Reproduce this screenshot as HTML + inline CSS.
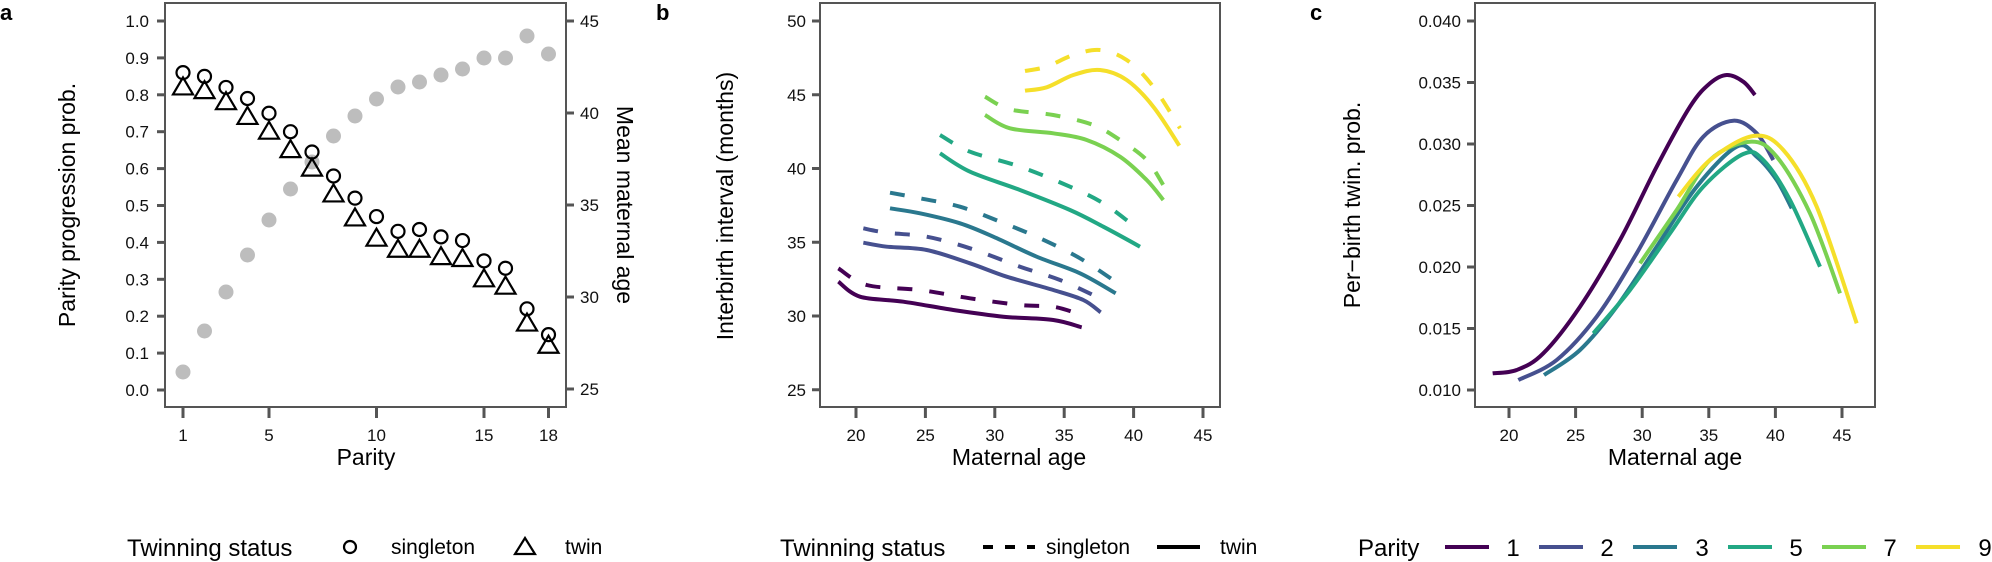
<!DOCTYPE html>
<html><head><meta charset="utf-8">
<style>
html,body{margin:0;padding:0;background:#fff;}
svg{display:block;font-family:"Liberation Sans",Arial,sans-serif;}
.t{font-size:17px;fill:#111;}
.ti{font-size:23px;fill:#000;}
.lg{font-size:24px;fill:#000;}
.ls{font-size:21px;fill:#000;}
.ax{fill:none;stroke:#555;stroke-width:2;}
.tk{stroke:#555;stroke-width:3;}
</style></head>
<body>
<svg id="s" width="1992" height="562" viewBox="0 0 1992 562" xmlns="http://www.w3.org/2000/svg">
<text x="0" y="20" style="font-size:22px;font-weight:bold">a</text>
<rect class="ax" x="165" y="3" width="401" height="404"/>
<g id="atk"></g>
<g id="adata"></g>
<text class="ti" transform="translate(75,205) rotate(-90)" text-anchor="middle">Parity progression prob.</text>
<text class="ti" transform="translate(617,205) rotate(90)" text-anchor="middle">Mean maternal age</text>
<text class="ti" x="366" y="465" text-anchor="middle">Parity</text>
<text class="lg" x="127" y="556">Twinning status</text>
<circle cx="350" cy="547" r="6" fill="none" stroke="#000" stroke-width="2.2"/>
<text class="ls" x="391" y="554">singleton</text>
<polygon points="525,538 535,554 515,554" fill="none" stroke="#000" stroke-width="2.2"/>
<text class="ls" x="565" y="554">twin</text>

<text x="656" y="20" style="font-size:22px;font-weight:bold">b</text>
<rect class="ax" x="820" y="3" width="400" height="404"/>
<g id="btk"></g>
<g id="bdata"></g>
<text class="ti" transform="translate(733,206) rotate(-90)" text-anchor="middle">Interbirth interval (months)</text>
<text class="ti" x="1019" y="465" text-anchor="middle">Maternal age</text>
<text class="lg" x="780" y="556">Twinning status</text>
<line x1="983" y1="547" x2="1035" y2="547" stroke="#000" stroke-width="4" stroke-dasharray="10,12"/>
<text class="ls" x="1046" y="554">singleton</text>
<line x1="1157" y1="547" x2="1200" y2="547" stroke="#000" stroke-width="4"/>
<text class="ls" x="1220" y="554">twin</text>

<text x="1310" y="20" style="font-size:22px;font-weight:bold">c</text>
<rect class="ax" x="1475" y="3" width="400" height="404"/>
<g id="ctk"></g>
<g id="cdata"></g>
<text class="ti" transform="translate(1360,205) rotate(-90)" text-anchor="middle">Per−birth twin. prob.</text>
<text class="ti" x="1675" y="465" text-anchor="middle">Maternal age</text>
<text class="lg" x="1358" y="556">Parity</text>
<g id="cleg"></g>
</svg>
<script>
const NS="http://www.w3.org/2000/svg";
function el(p,tag,attrs,txt){const e=document.createElementNS(NS,tag);for(const k in attrs)e.setAttribute(k,attrs[k]);if(txt!==undefined)e.textContent=txt;document.getElementById(p).appendChild(e);return e;}
function path(pts){let d="M"+pts[0][0]+","+pts[0][1];for(let i=0;i<pts.length-1;i++){const p0=pts[i-1]||pts[i],p1=pts[i],p2=pts[i+1],p3=pts[i+2]||p2;const c1=[p1[0]+(p2[0]-p0[0])/6,p1[1]+(p2[1]-p0[1])/6],c2=[p2[0]-(p3[0]-p1[0])/6,p2[1]-(p3[1]-p1[1])/6];d+=` C${c1[0].toFixed(1)},${c1[1].toFixed(1)} ${c2[0].toFixed(1)},${c2[1].toFixed(1)} ${p2[0].toFixed(1)},${p2[1].toFixed(1)}`;}return d;}
for(let i=0;i<=10;i++){const y=390-36.9*i;el("atk","line",{class:"tk",x1:157,y1:y,x2:165,y2:y});el("atk","text",{class:"t",x:149,y:y+6,"text-anchor":"end"},(i/10).toFixed(1));}
[25,30,35,40,45].forEach(v=>{const y=389-(v-25)*18.4;el("atk","line",{class:"tk",x1:566,y1:y,x2:574,y2:y});el("atk","text",{class:"t",x:580,y:y+6},v);});
[1,5,10,15,18].forEach(v=>{const x=183+(v-1)*21.5;el("atk","line",{class:"tk",x1:x,y1:407,x2:x,y2:418});el("atk","text",{class:"t",x:x,y:441,"text-anchor":"middle"},v);});
const grey=[372,331,292,255,220,189,162,136,116,99,87,82,75,69,58,58,36,54];
const circ=[0.86,0.85,0.82,0.79,0.75,0.70,0.645,0.58,0.52,0.47,0.43,0.435,0.415,0.405,0.35,0.33,0.22,0.15];
const tri=[0.82,0.81,0.78,0.74,0.70,0.65,0.60,0.53,0.465,0.41,0.38,0.38,0.36,0.355,0.30,0.28,0.18,0.12];
grey.forEach((y,i)=>el("adata","circle",{cx:183+i*21.5,cy:y,r:7.5,fill:"#bdbdbd"}));
circ.forEach((v,i)=>el("adata","circle",{cx:183+i*21.5,cy:390-369*v,r:6.5,fill:"none",stroke:"#000","stroke-width":2.2}));
tri.forEach((v,i)=>{const x=183+i*21.5,y=390-369*v;el("adata","polygon",{points:`${x},${y-10} ${x+10},${y+7} ${x-10},${y+7}`,fill:"none",stroke:"#000","stroke-width":2.2});});
[25,30,35,40,45,50].forEach(v=>{const y=21+(50-v)*14.75;el("btk","line",{class:"tk",x1:812,y1:y,x2:820,y2:y});el("btk","text",{class:"t",x:806,y:y+6,"text-anchor":"end"},v);});
[20,25,30,35,40,45].forEach(v=>{const x=856+(v-20)*13.88;el("btk","line",{class:"tk",x1:x,y1:407,x2:x,y2:418});el("btk","text",{class:"t",x:x,y:441,"text-anchor":"middle"},v);});
const col={1:"#440154",2:"#46508f",3:"#2a788e",5:"#22a884",7:"#7ad151",9:"#f5df2a"};
const bd=[
[1,0,[[55,845],[120,890],[250,905],[400,930],[550,950],[700,960],[785,982]]],
[1,1,[[55,805],[140,855],[300,870],[450,895],[600,915],[700,920],[770,940]]],
[2,0,[[130,728],[200,740],[320,750],[450,790],[560,830],[700,870],[790,900],[842,937]]],
[2,1,[[130,685],[200,698],[320,710],[450,745],[600,800],[720,840],[830,890]]],
[3,0,[[210,625],[300,640],[420,670],[520,710],[650,770],[780,820],[887,880]]],
[3,1,[[210,578],[300,595],[420,620],[540,665],[660,715],[780,775],[887,845]]],
[5,0,[[360,460],[450,515],[600,570],[750,630],[850,680],[960,740]]],
[5,1,[[360,405],[450,455],[600,500],[750,560],[850,610],[935,672]]],
[7,0,[[495,345],[570,385],[700,400],[800,420],[900,470],[980,540],[1030,600]]],
[7,1,[[495,290],[570,328],[700,345],[820,375],[900,420],[980,480],[1030,555]]],
[9,0,[[615,272],[680,262],[760,225],[840,210],[920,240],[1000,320],[1078,437]]],
[9,1,[[615,213],[680,200],[760,165],[840,150],[920,180],[1000,260],[1080,385]]]];
bd.forEach(([p,d,pts])=>{const q=pts.map(a=>[820+a[0]/3,a[1]/3]);const a={d:path(q),fill:"none",stroke:col[p],"stroke-width":4};if(d)a["stroke-dasharray"]="15,17";el("bdata","path",a);});
[0.010,0.015,0.020,0.025,0.030,0.035,0.040].forEach(v=>{const y=21+(0.040-v)*12300;el("ctk","line",{class:"tk",x1:1467,y1:y,x2:1475,y2:y});el("ctk","text",{class:"t",x:1461,y:y+6,"text-anchor":"end"},v.toFixed(3));});
[20,25,30,35,40,45].forEach(v=>{const x=1509+(v-20)*13.32;el("ctk","line",{class:"tk",x1:x,y1:407,x2:x,y2:418});el("ctk","text",{class:"t",x:x,y:441,"text-anchor":"middle"},v);});
const cd=[
[1,[[68,1120],[140,1110],[220,1060],[330,920],[450,720],[560,500],[660,320],[720,250],[770,225],[820,245],[855,285]]],
[2,[[145,1140],[260,1080],[380,950],[500,760],[620,540],[700,410],[790,362],[860,400],[910,480]]],
[3,[[222,1125],[330,1050],[440,920],[560,740],[680,560],[800,440],[860,470],[920,540],[965,625]]],
[5,[[370,1000],[480,870],[600,700],[700,560],[820,462],[880,480],[960,600],[1050,800]]],
[7,[[510,790],[620,630],[720,480],[840,425],[920,470],[1020,640],[1110,880]]],
[9,[[625,590],[720,480],[850,408],[940,450],[1040,620],[1160,970]]]];
cd.forEach(([p,pts])=>{const q=pts.map(a=>[1470+a[0]/3,a[1]/3]);el("cdata","path",{d:path(q),fill:"none",stroke:col[p],"stroke-width":4});});
[[1,1445,1513],[2,1539,1607],[3,1633,1702],[5,1728,1796],[7,1822,1890],[9,1916,1985]].forEach(([p,x,tx])=>{el("cleg","line",{x1:x,y1:547,x2:x+44,y2:547,stroke:col[p],"stroke-width":4});el("cleg","text",{class:"lg",x:tx,y:556,"text-anchor":"middle"},p);});
</script>
</body></html>
